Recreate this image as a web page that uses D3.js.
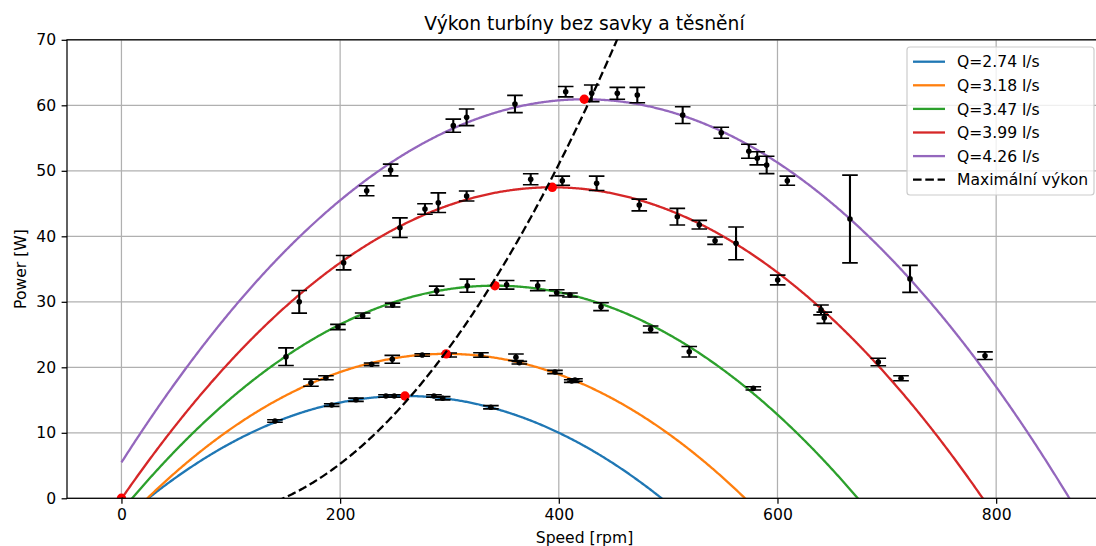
<!DOCTYPE html>
<html>
<head>
<meta charset="utf-8">
<script src="https://cdn.jsdelivr.net/npm/d3@7"></script>
<style>
  body { margin: 0; background: #fff; }
  svg { display: block; }
  text { font-family: "DejaVu Sans", sans-serif; fill: #000; }
</style>
</head>
<body>
<svg id="chart" width="1096" height="546"></svg>
<script>
// ---- data -------------------------------------------------------------
const flowLabels = ["Q=2.74 l/s", "Q=3.18 l/s", "Q=3.47 l/s", "Q=3.99 l/s", "Q=4.26 l/s"];
const seriesColors = ["#1f77b4", "#ff7f0e", "#2ca02c", "#d62728", "#9467bd"];

// measured points: speed [rpm], power [W], power uncertainty [W]
const speedQ274 = [140.4, 192.3, 214.5, 241.9, 249.5, 285.8, 293.8, 337.9];
const powerQ274 = [11.8, 14.24, 15.05, 15.62, 15.62, 15.62, 15.27, 13.9];
const errQ274   = [0.2, 0.2, 0.25, 0.2, 0.2, 0.2, 0.25, 0.25];

const speedQ318 = [173.3, 187, 228.8, 247.7, 275.1, 299.8, 328.8, 360.8, 363.9, 396.5, 411.8, 414.8];
const powerQ318 = [17.65, 18.41, 20.46, 21.22, 21.88, 21.88, 21.88, 21.53, 20.7, 19.28, 17.9, 18.06];
const errQ318   = [0.55, 0.3, 0.2, 0.6, 0.2, 0.3, 0.35, 0.5, 0.2, 0.25, 0.2, 0.2];

const speedQ347 = [150.5, 198, 220.6, 248, 288.3, 316.3, 352.3, 380.7, 398.1, 410.2, 438.6, 484, 519.3, 577.9];
const powerQ347 = [21.62, 26.15, 27.88, 29.5, 31.7, 32.46, 32.6, 32.46, 31.39, 31.04, 29.25, 25.8, 22.38, 16.79];
const errQ347   = [1.35, 0.4, 0.4, 0.3, 0.7, 1.0, 0.66, 0.76, 0.45, 0.3, 0.6, 0.5, 0.8, 0.25];

const speedQ399 = [162.6, 203.2, 254.7, 277.6, 289.8, 315.7, 374.3, 403.2, 434.6, 473.6, 508.4, 528.5, 542.9, 562.1, 600.2, 639.8, 642.8, 692.2, 713];
const powerQ399 = [30.0, 35.97, 41.31, 44.17, 45.13, 46.15, 48.7, 48.49, 48.09, 44.78, 42.99, 41.77, 39.33, 38.93, 33.33, 28.76, 27.57, 20.81, 18.32];
const errQ399   = [1.73, 1.1, 1.5, 0.8, 1.5, 0.76, 0.84, 0.7, 1.1, 0.9, 1.27, 0.66, 0.56, 2.5, 0.74, 0.76, 0.86, 0.58, 0.38];

const speedQ426 = [224.3, 246.2, 303.5, 315.7, 359.9, 406.3, 430.1, 453.5, 471.8, 513.3, 548.6, 573.8, 581.5, 590.1, 609, 666.3, 721.2, 789.8];
const powerQ426 = [46.96, 50.12, 56.89, 58.17, 60.2, 62.08, 61.83, 61.83, 61.57, 58.5, 55.82, 52.99, 51.91, 50.89, 48.49, 42.64, 33.5, 21.77];
const errQ426   = [0.76, 0.9, 1.0, 1.27, 1.32, 0.8, 1.27, 0.9, 1.17, 1.27, 0.84, 1.07, 1.0, 1.32, 0.7, 6.7, 2.06, 0.58];

// parabolic fits per flow rate: peak (speed, power) and upper zero-power speed
const fitPeakSpeed = [259.3, 297, 341.6, 394, 423.3];
const fitPeakPower = [15.62, 22.05, 32.46, 47.48, 60.92];
const fitZeroSpeed = [494, 570.3, 673.4, 787.7, 867];

// maximum-power points (red markers), including the origin
const maxSpeed = [0, 259.3, 297, 341.6, 394, 423.3];
const maxPower = [0, 15.62, 22.05, 32.46, 47.48, 60.92];
// quadratic through the maxima: P = a*n^2 + b*n + c
const maxFitCoef = [5.06e-4, -0.0749, 0];
const maxLabel = "Maximální výkon";

const speedTicks = [0, 200, 400, 600, 800];
const powerTicks = [0, 10, 20, 30, 40, 50, 60, 70];

const titleText = "Výkon turbíny bez savky a těsnění";
const xLabel = "Speed [rpm]";
const yLabel = "Power [W]";

// ---- layout -----------------------------------------------------------
const plot = { left: 67, right: 1102, top: 39.8, bottom: 498.3 };
const fs = 15.6;

const series = [
  { speed: speedQ274, power: powerQ274, err: errQ274 },
  { speed: speedQ318, power: powerQ318, err: errQ318 },
  { speed: speedQ347, power: powerQ347, err: errQ347 },
  { speed: speedQ399, power: powerQ399, err: errQ399 },
  { speed: speedQ426, power: powerQ426, err: errQ426 }
].map((s, i) => ({
  ...s,
  label: flowLabels[i],
  color: seriesColors[i],
  peakN: fitPeakSpeed[i],
  peakP: fitPeakPower[i],
  zeroN: fitZeroSpeed[i]
}));

const x = d3.scaleLinear().domain([-49.8, 896.8]).range([plot.left, plot.right]);
const y = d3.scaleLinear().domain([0, 70]).range([plot.bottom, plot.top]);

const svg = d3.select("#chart");

svg.append("defs").append("clipPath").attr("id", "plotClip")
  .append("rect")
  .attr("x", plot.left).attr("y", plot.top)
  .attr("width", plot.right - plot.left).attr("height", plot.bottom - plot.top);

// grid
const grid = svg.append("g").attr("stroke", "#b0b0b0").attr("stroke-width", 1.24);
grid.selectAll(".gx").data(speedTicks).join("line")
  .attr("x1", d => x(d)).attr("x2", d => x(d))
  .attr("y1", plot.top).attr("y2", plot.bottom);
grid.selectAll(".gy").data(powerTicks).join("line")
  .attr("x1", plot.left).attr("x2", plot.right)
  .attr("y1", d => y(d)).attr("y2", d => y(d));

const body = svg.append("g").attr("clip-path", "url(#plotClip)");

// fitted curves
const sampleN = d3.range(0, 900.5, 1);
const line = d3.line().x(d => x(d[0])).y(d => y(d[1]));
series.forEach(s => {
  const half = s.zeroN - s.peakN;
  const pts = sampleN.map(n => [n, s.peakP * (1 - ((n - s.peakN) / half) ** 2)]);
  body.append("path").attr("d", line(pts))
    .attr("fill", "none").attr("stroke", s.color).attr("stroke-width", 2.3);
});

// measured points with error bars
const capHalf = 7.8;
series.forEach(s => {
  const g = body.append("g");
  s.speed.forEach((n, i) => {
    const cx = x(n), p = s.power[i], e = s.err[i];
    const y1 = y(p - e), y2 = y(p + e);
    g.append("line").attr("x1", cx).attr("x2", cx).attr("y1", y1).attr("y2", y2)
      .attr("stroke", "#000").attr("stroke-width", 2.1);
    [y1, y2].forEach(yy => g.append("line")
      .attr("x1", cx - capHalf).attr("x2", cx + capHalf).attr("y1", yy).attr("y2", yy)
      .attr("stroke", "#000").attr("stroke-width", 1.6));
    g.append("circle").attr("cx", cx).attr("cy", y(p)).attr("r", 2.8).attr("fill", "#000");
  });
});

// maximum-power markers
body.selectAll(".maxpt").data(maxSpeed.map((n, i) => [n, maxPower[i]])).join("circle")
  .attr("cx", d => x(d[0])).attr("cy", d => y(d[1])).attr("r", 4.7).attr("fill", "#ff0000");

// maximum-power curve
const [ma, mb, mc] = maxFitCoef;
body.append("path")
  .attr("d", line(sampleN.map(n => [n, ma * n * n + mb * n + mc])))
  .attr("fill", "none").attr("stroke", "#000").attr("stroke-width", 2.3)
  .attr("stroke-dasharray", "8.6 3.7");

// axes
const xAxis = svg.append("g").attr("transform", `translate(0,${plot.bottom})`)
  .call(d3.axisBottom(x).tickValues(speedTicks).tickSize(5.4).tickPadding(5.4).tickFormat(d3.format("d")));
const yAxis = svg.append("g").attr("transform", `translate(${plot.left},0)`)
  .call(d3.axisLeft(y).tickValues(powerTicks).tickSize(5.4).tickPadding(5.4).tickFormat(d3.format("d")));
[xAxis, yAxis].forEach(a => {
  a.select(".domain").remove();
  a.selectAll(".tick line").attr("stroke", "#000").attr("stroke-width", 1.24);
  a.selectAll(".tick text").attr("font-size", fs).attr("font-family", "DejaVu Sans").attr("fill", "#000");
});

// frame
svg.append("rect")
  .attr("x", plot.left).attr("y", plot.top)
  .attr("width", plot.right - plot.left).attr("height", plot.bottom - plot.top)
  .attr("fill", "none").attr("stroke", "#000").attr("stroke-width", 1.24);

// titles
svg.append("text").attr("x", (plot.left + plot.right) / 2).attr("y", 29.5)
  .attr("text-anchor", "middle").attr("font-size", 18.7).text(titleText);
svg.append("text").attr("x", (plot.left + plot.right) / 2).attr("y", 543)
  .attr("text-anchor", "middle").attr("font-size", fs).text(xLabel);
svg.append("text")
  .attr("transform", `translate(25.5,${(plot.top + plot.bottom) / 2}) rotate(-90)`)
  .attr("text-anchor", "middle").attr("font-size", fs).text(yLabel);

// legend
const leg = svg.append("g");
leg.append("rect").attr("x", 907).attr("y", 47).attr("width", 187).attr("height", 148)
  .attr("rx", 3).attr("fill", "#fff").attr("fill-opacity", 0.8)
  .attr("stroke", "#cccccc").attr("stroke-width", 1.2);
const legItems = series.map(s => ({ label: s.label, color: s.color, dash: null }))
  .concat([{ label: maxLabel, color: "#000", dash: "8.6 3.7" }]);
legItems.forEach((d, i) => {
  const cy = 61.7 + i * 23.6;
  leg.append("line").attr("x1", 913).attr("x2", 945).attr("y1", cy).attr("y2", cy)
    .attr("stroke", d.color).attr("stroke-width", 2.3)
    .attr("stroke-dasharray", d.dash);
  leg.append("text").attr("x", 957).attr("y", cy + 5.6).attr("font-size", fs).text(d.label);
});
</script>
</body>
</html>
